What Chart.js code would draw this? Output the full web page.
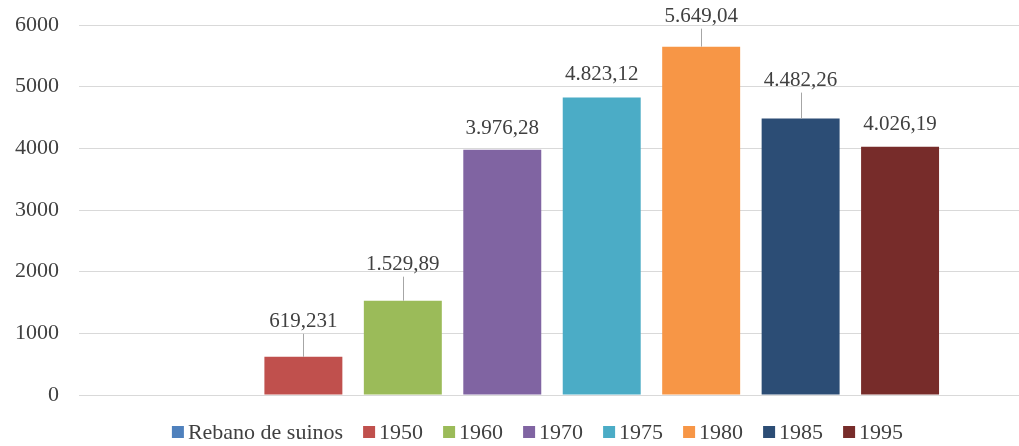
<!DOCTYPE html>
<html>
<head>
<meta charset="utf-8">
<script src="https://cdn.jsdelivr.net/npm/chart.js@4/dist/chart.umd.min.js"></script>
<style>
  html, body { margin: 0; padding: 0; background: #ffffff; }
  #wrap { width: 1019px; height: 446px; position: relative; overflow: hidden; }
  #c { display: block; }
</style>
</head>
<body>
<div id="wrap"><canvas id="c" width="1025" height="446"></canvas></div>
<script>
// Rebanho de suínos (mil cabeças) por ano
const seriesNames = ['Rebano de suinos', '1950', '1960', '1970', '1975', '1980', '1985', '1995'];
const seriesValues = [null, 619.231, 1529.89, 3976.28, 4823.12, 5649.04, 4482.26, 4026.19];
const seriesColors = ['#4F81BD', '#C0504D', '#9BBB59', '#8064A2', '#4BACC6', '#F79646', '#2C4D75', '#772C2A'];
const yTicks = [0, 1000, 2000, 3000, 4000, 5000, 6000];

// distance (px) from bar top to label centre; larger ones get a leader line
const calloutLift = [0, 35, 36, 21, 23, 30, 38, 22];

const FONT = "'Liberation Serif', 'Times New Roman', serif";
const TEXT = '#404040';

// pt-BR style number text: thousands with '.', decimals with ','
function fmt(v) {
  const [ip, dp] = String(v).split('.');
  const grouped = ip.replace(/\B(?=(\d{3})+(?!\d))/g, '.');
  return dp ? grouped + ',' + dp : grouped;
}

const valueCallouts = {
  id: 'valueCallouts',
  afterDatasetsDraw(chart) {
    const ctx = chart.ctx;
    ctx.save();
    ctx.font = '21px ' + FONT;
    ctx.textAlign = 'center';
    ctx.textBaseline = 'middle';
    chart.data.datasets.forEach((ds, i) => {
      const v = ds.data[0];
      if (v === null || v === undefined) return;
      const bar = chart.getDatasetMeta(i).data[0];
      const lift = calloutLift[i];
      const ty = bar.y - lift;
      if (lift > 28) {
        ctx.strokeStyle = '#a6a6a6';
        ctx.lineWidth = 1;
        ctx.beginPath();
        ctx.moveTo(Math.round(bar.x) + 0.5, ty + 12);
        ctx.lineTo(Math.round(bar.x) + 0.5, bar.y);
        ctx.stroke();
      }
      ctx.fillStyle = TEXT;
      ctx.fillText(fmt(v), bar.x, ty);
    });
    ctx.restore();
  }
};

const bottomLegend = {
  id: 'bottomLegend',
  afterDraw(chart) {
    const ctx = chart.ctx;
    const box = 12, gapText = 4, gapItem = 20;
    ctx.save();
    ctx.font = '22px ' + FONT;
    ctx.textBaseline = 'middle';
    ctx.textAlign = 'left';
    const items = chart.data.datasets.map(ds => ({
      label: ds.label, color: ds.backgroundColor, w: ctx.measureText(ds.label).width
    }));
    const total = items.reduce((s, it) => s + box + gapText + it.w, 0) + gapItem * (items.length - 1);
    let x = chart.width / 2 + 25 - total / 2;
    const y = 432;
    items.forEach(it => {
      ctx.fillStyle = it.color;
      ctx.fillRect(x, y - box / 2, box, box);
      ctx.fillStyle = TEXT;
      ctx.fillText(it.label, x + box + gapText, y + 1);
      x += box + gapText + it.w + gapItem;
    });
    ctx.restore();
  }
};

new Chart(document.getElementById('c'), {
  type: 'bar',
  data: {
    labels: [''],
    datasets: seriesNames.map((name, i) => ({
      label: name,
      data: [seriesValues[i]],
      backgroundColor: seriesColors[i],
      borderWidth: 0
    }))
  },
  options: {
    responsive: false,
    animation: false,
    devicePixelRatio: 1,
    layout: { padding: { top: 25, bottom: 51, left: 13, right: 0 } },
    datasets: { bar: { categoryPercentage: 0.841, barPercentage: 0.784 } },
    plugins: {
      legend: { display: false },
      tooltip: { enabled: false }
    },
    scales: {
      x: { display: false },
      y: {
        min: 0,
        max: 6000,
        afterBuildTicks(axis) { axis.ticks = yTicks.map(v => ({ value: v })); },
        afterFit(axis) {
          axis.width = 66;
          axis.paddingTop = 12;
          axis.paddingBottom = 12;
        },
        ticks: {
          color: TEXT,
          font: { family: FONT, size: 22 },
          padding: 20,
          callback: v => String(v)
        },
        grid: { color: '#d9d9d9', lineWidth: 1, drawTicks: false },
        border: { display: false }
      }
    }
  },
  plugins: [valueCallouts, bottomLegend]
});
</script>
</body>
</html>
